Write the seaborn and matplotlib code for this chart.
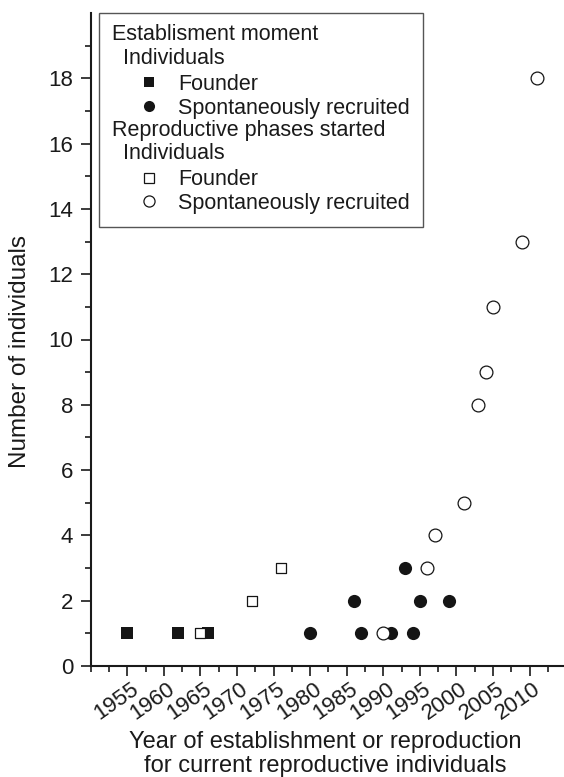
import matplotlib
matplotlib.use("Agg")
import matplotlib.pyplot as plt
import matplotlib.transforms as mtransforms
from matplotlib.lines import Line2D
from matplotlib.text import Text
from matplotlib.ticker import MultipleLocator, FixedLocator
import seaborn as sns
import pandas as pd

# ---- data ----
founder_est_year = [1955, 1962, 1966]
founder_est_n = [1, 1, 1]
spont_est_year = [1980, 1986, 1987, 1991, 1993, 1994, 1995, 1999]
spont_est_n = [1, 2, 1, 1, 3, 1, 2, 2]
founder_rep_year = [1965, 1972, 1976]
founder_rep_n = [1, 2, 3]
spont_rep_year = [1990, 1996, 1997, 2001, 2003, 2004, 2005, 2009, 2011]
spont_rep_n = [1, 3, 4, 5, 8, 9, 11, 13, 18]

x_ticks = [1955, 1960, 1965, 1970, 1975, 1980, 1985, 1990, 1995, 2000, 2005, 2010]
y_ticks = [0, 2, 4, 6, 8, 10, 12, 14, 16, 18]

legend_rows = [
    ("header", "Establisment moment"),
    ("subheader", "Individuals"),
    ("fsq", "Founder"),
    ("fci", "Spontaneously recruited"),
    ("header", "Reproductive phases started"),
    ("subheader", "Individuals"),
    ("osq", "Founder"),
    ("oci", "Spontaneously recruited"),
]

sns.set_theme(style="ticks")
plt.rcParams["font.family"] = ["Liberation Sans", "DejaVu Sans"]
TXT = "#1a1a1a"
plt.rcParams["text.color"] = TXT
plt.rcParams["axes.labelcolor"] = TXT
plt.rcParams["xtick.color"] = TXT
plt.rcParams["ytick.color"] = TXT

fig = plt.figure(figsize=(5.64, 7.77), dpi=100)
ax = fig.add_axes([90.7 / 564, 1 - 666 / 777, (564 - 90.7) / 564, (666 - 13) / 777])

df_fe = pd.DataFrame({"year": founder_est_year, "n": founder_est_n})
df_se = pd.DataFrame({"year": spont_est_year, "n": spont_est_n})
df_fr = pd.DataFrame({"year": founder_rep_year, "n": founder_rep_n})
df_sr = pd.DataFrame({"year": spont_rep_year, "n": spont_rep_n})

FILL = "#151515"
sns.scatterplot(data=df_fe, x="year", y="n", ax=ax, marker="s", s=70,
                color=FILL, edgecolor=FILL, linewidth=0, legend=False, zorder=3)
sns.scatterplot(data=df_se, x="year", y="n", ax=ax, marker="o", s=90,
                color=FILL, edgecolor=FILL, linewidth=0, legend=False, zorder=3)
sns.scatterplot(data=df_fr, x="year", y="n", ax=ax, marker="s", s=62,
                facecolor="white", edgecolor=FILL, linewidth=0.9, legend=False, zorder=4)
sns.scatterplot(data=df_sr, x="year", y="n", ax=ax, marker="o", s=85,
                facecolor="white", edgecolor=FILL, linewidth=0.9, legend=False, zorder=4)

ax.set_xlim(1950, 2014.7)
ax.set_ylim(0, 20)
ax.xaxis.set_major_locator(FixedLocator(x_ticks))
ax.xaxis.set_minor_locator(MultipleLocator(2.5))
ax.yaxis.set_major_locator(FixedLocator(y_ticks))
ax.yaxis.set_minor_locator(FixedLocator([v for v in range(1, 20, 2)]))
ax.set_xticklabels([str(v) for v in x_ticks])
ax.set_yticklabels([str(v) for v in y_ticks])

for side in ["top", "right"]:
    ax.spines[side].set_visible(False)
for side in ["left", "bottom"]:
    ax.spines[side].set_linewidth(1.5)
    ax.spines[side].set_color(TXT)

ax.tick_params(which="major", length=7.5, width=1.2, direction="out", labelsize=16)
ax.tick_params(which="minor", length=4, width=1.2, direction="out")
ax.tick_params(axis="y", pad=5)
ax.tick_params(axis="x", pad=1.5, labelsize=16)

off = mtransforms.ScaledTranslation(3 / 100, 0, fig.dpi_scale_trans)
for lab in ax.get_xticklabels():
    lab.set_rotation(35)
    lab.set_ha("right")
    lab.set_va("top")
    lab.set_rotation_mode("anchor")
    lab.set_transform(lab.get_transform() + off)

ax.set_ylabel("Number of individuals", fontsize=17.5)
ax.yaxis.set_label_coords(-0.126, 0.482)
ax.set_xlabel("Year of establishment or reproduction\nfor current reproductive individuals",
              fontsize=17, linespacing=1.12)
ax.xaxis.set_label_coords(0.495, -0.099)


# ---- legend ----
class HeaderHandle:
    def __init__(self, text, indent):
        self.text = text
        self.indent = indent


class HeaderHandler:
    def legend_artist(self, legend, orig_handle, fontsize, handlebox):
        x0, y0 = handlebox.xdescent, handlebox.ydescent
        t = Text(-x0 + orig_handle.indent, -y0 + handlebox.height / 2, orig_handle.text,
                 fontsize=fontsize, va="center", ha="left", color=TXT,
                 family=["Liberation Sans", "DejaVu Sans"])
        handlebox.add_artist(t)
        return t


handles, labels = [], []
for kind, text in legend_rows:
    if kind == "header":
        handles.append(HeaderHandle(text, 0))
        labels.append("")
    elif kind == "subheader":
        handles.append(HeaderHandle(text, 8))
        labels.append("")
    else:
        marker = "s" if kind.endswith("sq") else "o"
        filled = kind.startswith("f")
        ms = 8 if marker == "o" else (7.2 if filled else 6.5)
        handles.append(Line2D([], [], linestyle="", marker=marker, markersize=ms,
                              markerfacecolor=FILL if filled else "white",
                              markeredgecolor=FILL, markeredgewidth=0 if filled else 0.9))
        labels.append(text)

leg = ax.legend(handles, labels, handler_map={HeaderHandle: HeaderHandler()},
                loc="upper left", bbox_to_anchor=((99 - 90.7) / 473.3, 1.0),
                borderaxespad=0, fontsize=15.5, frameon=True, fancybox=False,
                framealpha=1, edgecolor="#555555", borderpad=0.62,
                handlelength=3.38, handletextpad=-0.34, labelspacing=0.13,
                numpoints=1)
leg.get_frame().set_linewidth(1.0)

fig.savefig("out.png", dpi=100)
